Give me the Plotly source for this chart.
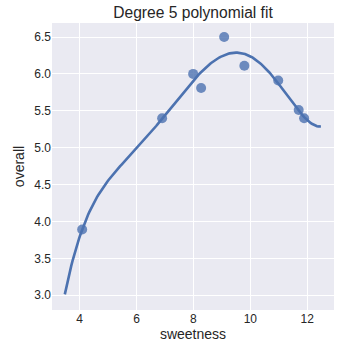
import numpy as np
import plotly.graph_objects as go

sweetness = [4.09, 6.90, 7.99, 8.27, 9.08, 9.79, 10.98, 11.70, 11.89]
overall = [3.89, 5.40, 6.00, 5.81, 6.50, 6.11, 5.91, 5.51, 5.40]
x_ticks = [4, 6, 8, 10, 12]
y_ticks = [3.0, 3.5, 4.0, 4.5, 5.0, 5.5, 6.0, 6.5]
fit_range = [3.48, 12.48]
degree = 5

coef = np.polyfit(sweetness, overall, degree)
xs = np.linspace(fit_range[0], fit_range[1], 200)
ys = np.polyval(coef, xs)

color = "#4C72B0"
fig = go.Figure()
fig.add_trace(go.Scatter(x=sweetness, y=overall, mode="markers",
                         marker=dict(size=10, color=color, opacity=0.8, line=dict(width=0)),
                         showlegend=False))
fig.add_trace(go.Scatter(x=xs, y=ys, mode="lines",
                         line=dict(color=color, width=2.6), showlegend=False))

font = "Liberation Sans, Arial, sans-serif"
fig.update_layout(
    width=340, height=357,
    margin=dict(l=52, r=6, t=23, b=47),
    paper_bgcolor="white", plot_bgcolor="#EAEAF2",
    title=dict(text="Degree 5 polynomial fit", x=0.5, xanchor="center",
               y=1 - 13/357, yanchor="middle", xref="paper",
               font=dict(family=font, size=15.6, color="#262626")),
    font=dict(family=font, color="#262626"),
    xaxis=dict(range=[3.03, 12.94], tickvals=x_ticks, ticktext=[str(v) for v in x_ticks],
               showgrid=True, gridcolor="white", gridwidth=1.2, zeroline=False,
               showline=False, ticks="", tickfont=dict(size=12, color="#262626"),
               title=dict(text="sweetness", font=dict(size=14, color="#262626"), standoff=3)),
    yaxis=dict(range=[2.80, 6.69], tickvals=y_ticks, ticktext=[f"{v:.1f}" for v in y_ticks],
               showgrid=True, gridcolor="white", gridwidth=1.2, zeroline=False,
               showline=False, ticks="", tickfont=dict(size=12, color="#262626"),
               title=dict(text="overall", font=dict(size=14, color="#262626"), standoff=6)),
)
fig.write_html("out.html")
